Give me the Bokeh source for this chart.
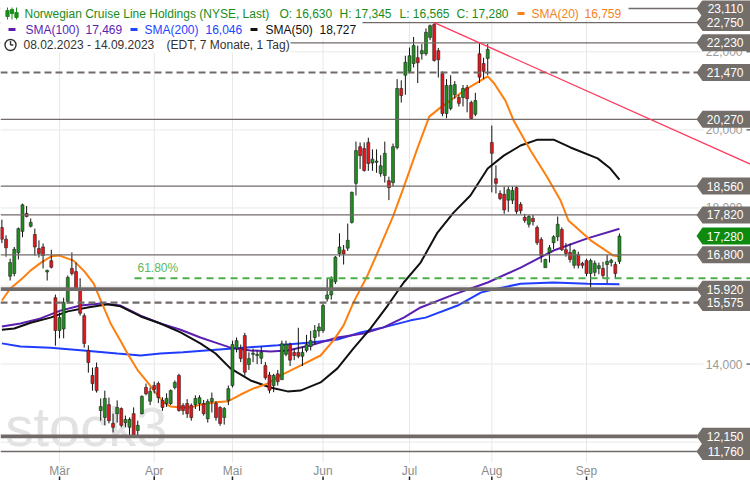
from bokeh.plotting import figure
from bokeh.models import Range1d, Label, ColumnDataSource
from bokeh.core.properties import value
from bokeh.embed import file_html
from bokeh.resources import INLINE

# ---------------- data ----------------
opens = [17.50, 17.20, 16.25, 16.32, 16.85, 17.40, 17.86, 17.53, 17.32, 16.96,
         17.00, 16.36, 16.65, 15.70, 14.86, 14.90, 15.60, 16.45, 16.37, 15.91,
         15.24, 14.35, 13.71, 13.91, 12.81, 12.63, 12.96, 12.48, 12.73, 12.86,
         12.50, 12.38, 12.73, 12.30, 12.73, 13.40, 13.05, 13.45, 13.50, 13.07,
         12.99, 12.99, 13.40, 13.71, 12.94, 12.99, 12.94, 12.96, 12.99, 12.99,
         12.60, 13.04, 12.99, 12.89, 12.63, 13.07, 13.45, 14.40, 14.40, 14.73,
         13.99, 14.25, 14.22, 14.15, 13.96, 13.72, 13.45, 13.75, 13.60, 14.25,
         14.50, 14.30, 14.30, 14.20, 14.35, 14.45, 14.68, 14.85, 14.86, 15.67,
         15.77, 16.11, 16.83, 16.92, 16.97, 17.63, 18.63, 19.57, 19.52, 19.68,
         19.15, 19.17, 18.88, 18.83, 18.70, 18.65, 19.55, 21.06, 21.40, 21.50,
         21.70, 21.85, 21.95, 21.95, 22.37, 22.70, 22.03, 21.44, 20.42, 20.55,
         20.90, 20.83, 20.83, 21.08, 20.70, 20.40, 21.95, 21.70, 21.83, 19.68,
         18.75, 18.37, 18.35, 18.20, 18.20, 18.52, 18.09, 17.76, 17.58, 17.73,
         17.50, 17.19, 16.47, 16.86, 17.11, 17.26, 17.45, 16.93, 16.86, 16.53,
         16.81, 16.58, 16.65, 16.32, 16.35, 16.45, 16.45, 16.55, 16.60, 16.55,
         16.63]
highs = [17.70, 17.30, 16.70, 17.00, 17.50, 18.11, 18.05, 17.73, 17.47, 17.17,
         17.09, 16.42, 16.93, 15.78, 15.32, 15.70, 16.27, 16.86, 16.60, 16.20,
         15.30, 14.48, 13.91, 14.04, 13.12, 13.32, 13.14, 12.73, 13.07, 12.89,
         12.68, 12.63, 12.89, 12.55, 13.20, 13.50, 13.40, 13.55, 13.55, 13.15,
         13.25, 13.35, 13.58, 13.75, 13.00, 13.10, 12.99, 13.20, 13.20, 13.08,
         13.10, 13.27, 13.05, 12.92, 12.90, 13.45, 14.60, 14.68, 14.50, 14.80,
         14.30, 14.40, 14.35, 14.45, 14.05, 13.80, 13.75, 13.85, 14.60, 14.60,
         14.55, 14.40, 14.93, 14.45, 14.75, 14.85, 15.00, 15.05, 15.55, 16.20,
         16.25, 16.77, 17.35, 17.05, 17.60, 18.42, 19.70, 19.68, 19.68, 19.80,
         19.50, 19.50, 19.35, 19.70, 18.80, 19.65, 21.30, 21.27, 21.90, 22.11,
         22.38, 22.16, 22.20, 22.60, 22.70, 22.75, 22.10, 21.50, 21.30, 21.40,
         21.25, 20.90, 21.15, 21.15, 20.75, 20.95, 22.23, 21.85, 22.20, 20.11,
         19.09, 18.45, 18.55, 18.55, 18.55, 18.55, 18.15, 17.85, 17.82, 17.82,
         17.55, 17.25, 16.70, 17.05, 17.30, 17.78, 17.50, 17.10, 17.09, 16.95,
         16.88, 16.62, 16.70, 16.70, 16.65, 16.60, 16.62, 16.80, 16.70, 16.62,
         17.345]
lows = [17.10, 16.75, 16.14, 16.25, 16.68, 17.25, 17.76, 17.50, 16.78, 16.73,
        16.45, 16.14, 16.45, 14.47, 14.66, 14.66, 15.55, 16.27, 15.90, 15.24,
        14.42, 13.78, 13.32, 13.27, 12.55, 12.43, 12.48, 12.25, 12.50, 12.38,
        12.38, 12.17, 12.15, 12.15, 12.71, 13.20, 12.95, 13.25, 13.00, 12.80,
        12.90, 12.95, 13.35, 12.78, 12.70, 12.62, 12.55, 12.85, 12.80, 12.68,
        12.50, 12.76, 12.55, 12.42, 12.45, 12.95, 13.40, 14.30, 14.05, 13.70,
        13.85, 14.05, 14.00, 14.00, 13.60, 13.25, 13.28, 13.45, 13.60, 14.20,
        13.95, 14.10, 14.15, 13.95, 14.30, 14.35, 14.50, 14.70, 14.80, 15.60,
        15.65, 16.05, 16.75, 16.55, 16.90, 17.60, 18.32, 19.00, 18.93, 18.95,
        18.95, 18.90, 18.80, 18.65, 18.20, 18.55, 19.50, 20.70, 20.90, 21.45,
        21.60, 21.20, 21.80, 21.90, 22.30, 21.75, 21.34, 20.35, 20.30, 20.50,
        20.80, 20.60, 20.60, 20.45, 20.27, 20.35, 21.20, 21.30, 21.40, 18.40,
        18.37, 18.20, 17.85, 17.90, 18.10, 17.85, 17.85, 17.62, 17.50, 17.55,
        17.05, 16.60, 16.47, 16.60, 16.95, 17.15, 16.90, 16.75, 16.60, 16.45,
        16.45, 16.45, 16.25, 15.96, 16.25, 16.30, 16.20, 16.07, 16.50, 16.20,
        16.565]
closes = [17.20, 16.98, 16.60, 16.94, 17.47, 18.08, 17.78, 17.63, 17.00, 16.83,
          16.78, 16.40, 16.48, 14.86, 15.19, 15.58, 16.22, 16.32, 15.93, 15.30,
          14.53, 14.04, 13.50, 13.32, 12.91, 13.12, 12.55, 12.38, 12.89, 12.43,
          12.58, 12.58, 12.17, 12.43, 13.17, 13.24, 13.30, 13.35, 13.14, 12.89,
          13.12, 13.32, 13.53, 12.81, 12.81, 12.73, 12.63, 13.12, 13.14, 12.73,
          13.04, 13.12, 12.63, 12.48, 12.86, 13.37, 14.50, 14.60, 14.14, 13.79,
          14.14, 14.28, 14.25, 14.30, 13.65, 13.33, 13.71, 13.55, 14.52, 14.50,
          14.10, 14.22, 14.20, 14.30, 14.50, 14.60, 14.86, 14.95, 15.50, 15.77,
          16.20, 16.74, 17.00, 16.82, 17.17, 18.40, 19.47, 19.34, 18.96, 19.14,
          19.25, 19.20, 19.08, 19.40, 18.52, 19.57, 21.06, 20.88, 21.73, 21.90,
          22.16, 21.72, 22.03, 22.50, 22.67, 21.78, 21.80, 20.42, 21.14, 21.14,
          21.16, 20.68, 21.06, 20.80, 20.29, 20.75, 21.35, 21.50, 22.06, 19.40,
          18.63, 18.24, 17.95, 18.47, 18.45, 17.91, 17.93, 17.68, 17.78, 17.65,
          17.11, 16.78, 16.68, 16.98, 17.26, 17.58, 16.93, 16.83, 16.68, 16.91,
          16.53, 16.53, 16.32, 16.65, 16.58, 16.52, 16.27, 16.63, 16.66, 16.32,
          17.28]

month_idx = [14, 37, 56, 78, 99, 119, 142]
month_labels = ["Mär", "Apr", "Mai", "Jun", "Jul", "Aug", "Sep"]
ytick_vals = [12, 14, 16, 18, 20, 22]

sma20_idx = [0, 2, 5, 7, 9.5, 12, 14, 17.4, 20, 22.3, 24, 26.4, 28.8, 30.5, 33, 35.4, 37.3, 39.3, 41, 43.4,
             46, 48.2, 52, 55, 58, 61, 64.5, 67.7, 72.5, 77.4, 80.5, 83, 85.4, 88.8, 92, 95.1, 97.5, 100.9, 103.8, 106.5,
             113, 118, 119.5, 122.3, 124.3, 128.4, 132.5, 135.7, 137.6, 143, 148.5, 150]
sma20_val = [15.63, 15.93, 16.2, 16.4, 16.6, 16.76, 16.78, 16.65, 16.38, 16.06, 15.63, 15.04, 14.6, 14.27, 13.84, 13.53, 13.27, 13.02, 12.91, 12.89,
             12.89, 12.96, 13.02, 13.05, 13.22, 13.37, 13.5, 13.71, 13.96, 14.22, 14.6, 14.99, 15.58, 16.27, 17.04, 17.81, 18.5, 19.52, 20.34, 20.57,
             21.06, 21.37, 21.2, 20.75, 20.24, 19.47, 18.78, 18.19, 17.68, 17.17, 16.78, 16.759]
sma50_idx = [0, 3, 7, 11.8, 16, 20.8, 25.7, 28.8, 33.7, 38.5, 43.4, 48.2, 51.9, 55.5, 60.4, 65.2, 69.4, 72.5, 77.4, 81.5,
             85.4, 89.5, 93.7, 97.6, 101.7, 105.8, 109.7, 113.8, 118, 121.9, 126, 130.1, 134, 138.1, 144.7, 147.8, 150]
sma50_val = [14.88, 14.91, 15.06, 15.19, 15.35, 15.45, 15.53, 15.48, 15.22, 15.04, 14.81, 14.53, 14.27, 13.89, 13.58, 13.4, 13.3, 13.32, 13.53, 13.89,
             14.4, 14.91, 15.5, 16.09, 16.6, 17.37, 17.88, 18.32, 19.01, 19.34, 19.6, 19.75, 19.75, 19.55, 19.27, 19.01, 18.727]
sma100_idx = [0, 4.5, 9.4, 14.2, 19.1, 24, 28.8, 33.7, 38.5, 43.4, 48.2, 51.9, 55.5, 60.4, 65.2, 69.4, 75, 81.5, 87.8, 92.7,
              97.6, 101.7, 109.7, 118, 126, 134, 142.2, 150]
sma100_val = [14.96, 15.04, 15.17, 15.37, 15.5, 15.55, 15.5, 15.24, 15.04, 14.88, 14.68, 14.55, 14.42, 14.35, 14.32, 14.35, 14.48, 14.68, 14.78, 14.94,
              15.19, 15.45, 15.78, 16.09, 16.47, 16.91, 17.22, 17.469]
sma200_idx = [0, 4.5, 11.8, 19.8, 28, 33.7, 38.5, 44, 51.9, 58.7, 67, 75, 81.5, 87.1, 92.7, 99.3, 102.9, 110.7, 116.3, 118,
              126, 134, 142.2, 150]
sma200_val = [14.53, 14.45, 14.42, 14.35, 14.27, 14.22, 14.27, 14.3, 14.37, 14.42, 14.48, 14.55, 14.63, 14.81, 14.94, 15.12, 15.19, 15.5, 15.83, 15.88,
              16.06, 16.09, 16.06, 16.046]

levels = [23.11, 22.75, 22.23, 21.47, 20.27, 18.56, 17.82, 16.80, 15.92, 15.575, 12.15, 11.76]
last_close = 17.28
fib_low, fib_high, fib_ratio = 12.15, 22.75, 0.618
trend_idx = [105, 116]
trend_val = [22.75, 22.23]

title = "Norwegian Cruise Line Holdings (NYSE, Last)"
date_text = "08.02.2023 - 14.09.2023"
period_text = "(EDT, 7 Monate, 1 Tag)"

# ---------------- drawing ----------------
W, H = 750, 480
X0, X1 = -0.34, 181.83
Y0, Y1 = 11.017, 23.315
FONT = "Liberation Sans"
FS = "12px"


def X(px):
    return X0 + px * (X1 - X0) / W


def Y(py):
    return Y1 - py * (Y1 - Y0) / H


def fmt(v):
    return f"{v:.3f}".replace(".", ",")


p = figure(width=W, height=H, x_range=Range1d(X0, X1), y_range=Range1d(Y0, Y1),
           output_backend="svg", toolbar_location=None,
           x_axis_location=None, y_axis_location=None,
           min_border=0, outline_line_color=None,
           background_fill_color="white", border_fill_color="white")
p.grid.visible = False

# watermark
p.text(x=[X(5)], y=[Y(426)], text=["stock3"], text_font=value(FONT), text_font_size="56px",
       text_color="#e2e2e2", text_baseline="alphabetic", text_align="left")

# grid
p.segment(x0=X(0), x1=X(703), y0=ytick_vals, y1=ytick_vals, line_color="#e8e8e8", line_width=1)
p.segment(x0=month_idx, x1=month_idx, y0=Y(462), y1=Y1, line_color="#e8e8e8", line_width=1)
p.text(x=month_idx, y=Y(470), text=month_labels, text_font=value(FONT), text_font_size=FS,
       text_color="#8c8c8c", text_align="center", text_baseline="middle")
p.segment(x0=month_idx, x1=month_idx, y0=Y(476), y1=Y0, line_color="#222222", line_width=1.5)

# moving averages
p.line(sma200_idx, sma200_val, line_color="#1f3cff", line_width=2)
p.line(sma100_idx, sma100_val, line_color="#5b1fb0", line_width=2)
p.line(sma50_idx, sma50_val, line_color="#111111", line_width=2)
p.line(sma20_idx, sma20_val, line_color="#ff7f0e", line_width=2)

# candles
idx = list(range(len(closes)))
src = ColumnDataSource(dict(
    x=idx, high=highs, low=lows,
    top=[max(o, c) for o, c in zip(opens, closes)],
    bottom=[min(o, c) for o, c in zip(opens, closes)],
    color=["#1e8f1e" if c >= o else "#e3161b" for o, c in zip(opens, closes)],
))
p.segment(x0="x", x1="x", y0="low", y1="high", source=src, line_color="#111111", line_width=1)
p.vbar(x="x", width=0.72, top="top", bottom="bottom", source=src,
       fill_color="color", line_color="#222222", line_width=0.6)

# horizontal levels
level_style = {
    23.11: ("solid", 1.3), 22.75: ("solid", 1.3), 22.23: ("solid", 1.3), 21.47: ("7 4", 2.2),
    20.27: ("solid", 1.3), 18.56: ("solid", 1.3), 17.82: ("solid", 1.3), 16.80: ("solid", 1.3),
    15.92: ("solid", 3.8), 15.575: ("7 4", 2.2), 12.15: ("solid", 3.8), 11.76: ("solid", 1.3),
}
for lv in levels:
    dash, lw = level_style[lv]
    p.line([X(0), X(697)], [lv, lv], line_color="#706b68", line_width=lw, line_dash=dash)

# fibonacci 61.8 %
fib_val = fib_high - fib_ratio * (fib_high - fib_low)
p.line([X(134), X1], [fib_val, fib_val], line_color="#4cae4c", line_width=2, line_dash="7 5")
p.text(x=[X(137)], y=[fib_val + 10 * (Y1 - Y0) / H], text=[f"{fib_ratio * 100:.2f}%"],
       text_font=value(FONT), text_font_size=FS, text_color="#5cb85c",
       text_align="left", text_baseline="middle")

# trend line
slope = (trend_val[1] - trend_val[0]) / (trend_idx[1] - trend_idx[0])
p.line([trend_idx[0], X1], [trend_val[0], trend_val[0] + slope * (X1 - trend_idx[0])],
       line_color="#ff3a5c", line_width=1.3)

# legend backgrounds
p.quad(left=[X(0)] * 3, right=[X(628), X(362), X(290)],
       top=[Y(0), Y(19), Y(36.5)], bottom=[Y(19), Y(36.5), Y(52)],
       fill_color="white", line_color=None)


def lab(px, py, text, color):
    p.add_layout(Label(x=X(px), y=Y(py), text=text, text_font=FONT, text_font_size=FS,
                       text_color=color, text_baseline="middle", text_align="left"))


GREEN = "#1a8c1a"
ORANGE = "#f5821f"
PURPLE = "#5b1fb0"
BLUE = "#2145ff"

# candle icon
ic_x = [7, 11.5, 16]
p.segment(x0=[X(v) for v in ic_x], x1=[X(v) for v in ic_x], y0=[Y(7)] * 3, y1=[Y(19)] * 3,
          line_color=GREEN, line_width=1)
p.quad(left=[X(v - 1.6) for v in ic_x], right=[X(v + 1.6) for v in ic_x],
       top=[Y(10), Y(9), Y(12)], bottom=[Y(16), Y(13), Y(17)], fill_color=GREEN, line_color=GREEN)

lab(24, 13, title, GREEN)
lab(279, 13, "O: " + fmt(opens[-1]), GREEN)
lab(339, 13, "H: " + fmt(highs[-1]), GREEN)
lab(399, 13, "L: " + fmt(lows[-1]), GREEN)
lab(456, 13, "C: " + fmt(closes[-1]), GREEN)
p.segment(x0=[X(517)], x1=[X(524)], y0=[Y(13)], y1=[Y(13)], line_color=ORANGE, line_width=3)
lab(531, 13, "SMA(20)", ORANGE)
lab(584, 13, fmt(sma20_val[-1]), ORANGE)

p.segment(x0=[X(8), X(130), X(250)], x1=[X(15), X(137), X(257)], y0=[Y(29)] * 3, y1=[Y(29)] * 3,
          line_color=[PURPLE, BLUE, "#111111"], line_width=3)
lab(25, 29, "SMA(100)", PURPLE)
lab(85, 29, fmt(sma100_val[-1]), PURPLE)
lab(144, 29, "SMA(200)", BLUE)
lab(205, 29, fmt(sma200_val[-1]), BLUE)
lab(265, 29, "SMA(50)", "#111111")
lab(319, 29, fmt(sma50_val[-1]), "#111111")

# clock icon
p.scatter(x=[X(10)], y=[Y(44.5)], size=11, marker="circle", fill_color=None,
          line_color="#333333", line_width=1.4)
p.segment(x0=[X(10), X(10)], x1=[X(10), X(12.8)], y0=[Y(44.5), Y(44.5)], y1=[Y(40.5), Y(44.5)],
          line_color="#333333", line_width=1.4)
lab(23, 44.5, date_text, "#333333")
lab(166, 44.5, period_text, "#333333")

# y-axis labels on the right
p.text(x=X(742), y=ytick_vals, text=[fmt(v) for v in ytick_vals], text_font=value(FONT),
       text_font_size=FS, text_color="#9a9a9a", text_align="right", text_baseline="middle")
p.segment(x0=X(746), x1=X1, y0=ytick_vals, y1=ytick_vals, line_color="#222222", line_width=1)

# price tags
hh = 8.5 * (Y1 - Y0) / H
tags = sorted([(lv, "#746e6b") for lv in levels] + [(last_close, "#0e8a0e")], key=lambda t: -t[0])
for lv, col in tags:
    p.patch([X(696), X(702), X1, X1, X(702)], [lv, lv + hh, lv + hh, lv - hh, lv - hh],
            fill_color=col, line_color=None)
    p.text(x=[X(743)], y=[lv], text=[fmt(lv)], text_font=value(FONT), text_font_size=FS,
           text_color="white", text_align="right", text_baseline="middle")

open("out.html", "w").write(file_html(p, INLINE))
